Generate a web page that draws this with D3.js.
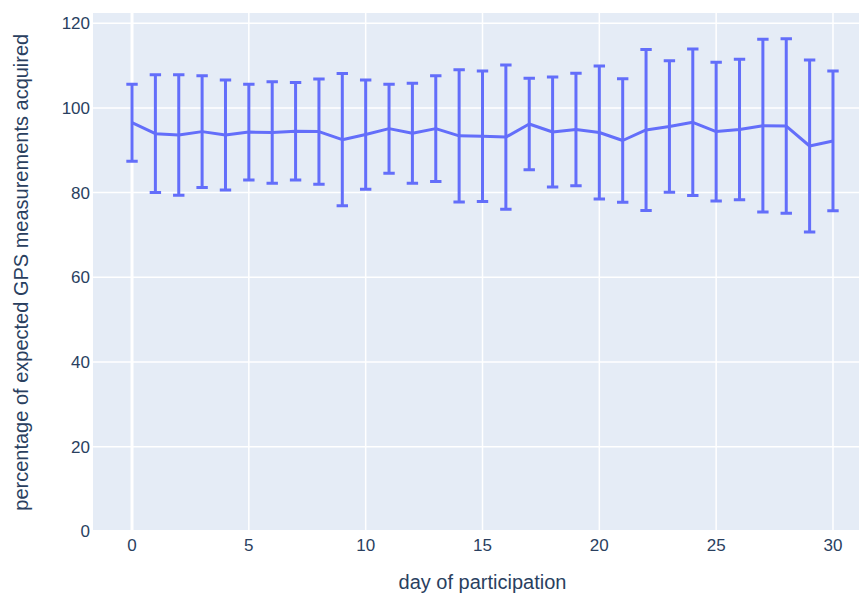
<!DOCTYPE html>
<html>
<head>
<meta charset="utf-8">
<script src="https://cdn.jsdelivr.net/npm/d3@7"></script>
<style>
    body { margin: 0; background: #fff; }
    text { font-family: "Liberation Sans", Arial, sans-serif; fill: #2a3f5f; }
</style>
</head>
<body>
<div id="chart"></div>
<script>
const days = d3.range(0, 31);
const meanPct = [96.5, 93.9, 93.6, 94.4, 93.6, 94.3, 94.2, 94.5, 94.4, 92.5,
    93.7, 95.1, 94.0, 95.1, 93.4, 93.3, 93.1, 96.2, 94.3, 94.9,
    94.2, 92.3, 94.8, 95.6, 96.6, 94.4, 94.9, 95.8, 95.7, 91.0, 92.2];
const sdPct = [9.1, 13.9, 14.2, 13.2, 13.0, 11.3, 12.0, 11.5, 12.4, 15.6,
    12.9, 10.5, 11.8, 12.5, 15.6, 15.4, 17.0, 10.8, 13.0, 13.3,
    15.7, 14.6, 19.0, 15.5, 17.3, 16.4, 16.6, 20.4, 20.6, 20.3, 16.5];
const xTicks = [0, 5, 10, 15, 20, 25, 30];
const yTicks = [0, 20, 40, 60, 80, 100, 120];

let width = 859;
let height = 594;
let plot = {left: 93, right: 872, top: 13, bottom: 531.5};
let lineColor = '#636efa';

let data = days.map((d, i) => ({day: d, mean: meanPct[i], sd: sdPct[i]}));

let x = d3.scaleLinear().domain([-1.67, 31.67]).range([plot.left, plot.right]);
let y = d3.scaleLinear().domain([0, 122.4]).range([plot.bottom, plot.top]);

let svg = d3.select('#chart')
    .append('svg')
    .attr('width', width)
    .attr('height', height);

svg.append('rect')
    .attr('x', plot.left)
    .attr('y', plot.top)
    .attr('width', plot.right - plot.left)
    .attr('height', plot.bottom - plot.top)
    .attr('fill', '#e5ecf6');

// grid
svg.append('g')
    .selectAll('line')
    .data(xTicks)
    .enter()
    .append('line')
    .attr('x1', d => x(d)).attr('x2', d => x(d))
    .attr('y1', plot.top).attr('y2', plot.bottom)
    .attr('stroke', '#fff')
    .attr('stroke-width', d => d === 0 ? 3 : 1.5);

svg.append('g')
    .selectAll('line')
    .data(yTicks)
    .enter()
    .append('line')
    .attr('x1', plot.left).attr('x2', plot.right)
    .attr('y1', d => y(d)).attr('y2', d => y(d))
    .attr('stroke', '#fff')
    .attr('stroke-width', d => d === 0 ? 3 : 1.5);

// tick labels
svg.append('g')
    .selectAll('text')
    .data(xTicks)
    .enter()
    .append('text')
    .attr('x', d => x(d))
    .attr('y', 551)
    .attr('text-anchor', 'middle')
    .style('font-size', '17px')
    .text(d => d);

svg.append('g')
    .selectAll('text')
    .data(yTicks)
    .enter()
    .append('text')
    .attr('x', 90)
    .attr('y', d => y(d))
    .attr('dy', '0.35em')
    .attr('text-anchor', 'end')
    .style('font-size', '17px')
    .text(d => d);

// axis titles
svg.append('text')
    .attr('x', (plot.left + plot.right) / 2)
    .attr('y', 589)
    .attr('text-anchor', 'middle')
    .style('font-size', '20px')
    .text('day of participation');

svg.append('text')
    .attr('transform', 'translate(28,' + ((plot.top + plot.bottom) / 2) + ') rotate(-90)')
    .attr('text-anchor', 'middle')
    .style('font-size', '20px')
    .text('percentage of expected GPS measurements acquired');

// error bars
let bars = svg.append('g')
    .attr('stroke', lineColor)
    .attr('stroke-width', 3)
    .attr('fill', 'none')
    .selectAll('path')
    .data(data)
    .enter()
    .append('path')
    .attr('d', d => {
        let cx = x(d.day);
        let top = y(d.mean + d.sd);
        let bot = y(d.mean - d.sd);
        let cap = 5.7;
        return 'M' + cx + ',' + top + 'V' + bot +
            'M' + (cx - cap) + ',' + top + 'H' + (cx + cap) +
            'M' + (cx - cap) + ',' + bot + 'H' + (cx + cap);
    });

// mean line
let line = d3.line()
    .x(d => x(d.day))
    .y(d => y(d.mean));

svg.append('path')
    .datum(data)
    .attr('d', line)
    .attr('fill', 'none')
    .attr('stroke', lineColor)
    .attr('stroke-width', 3)
    .attr('stroke-linejoin', 'round');
</script>
</body>
</html>
